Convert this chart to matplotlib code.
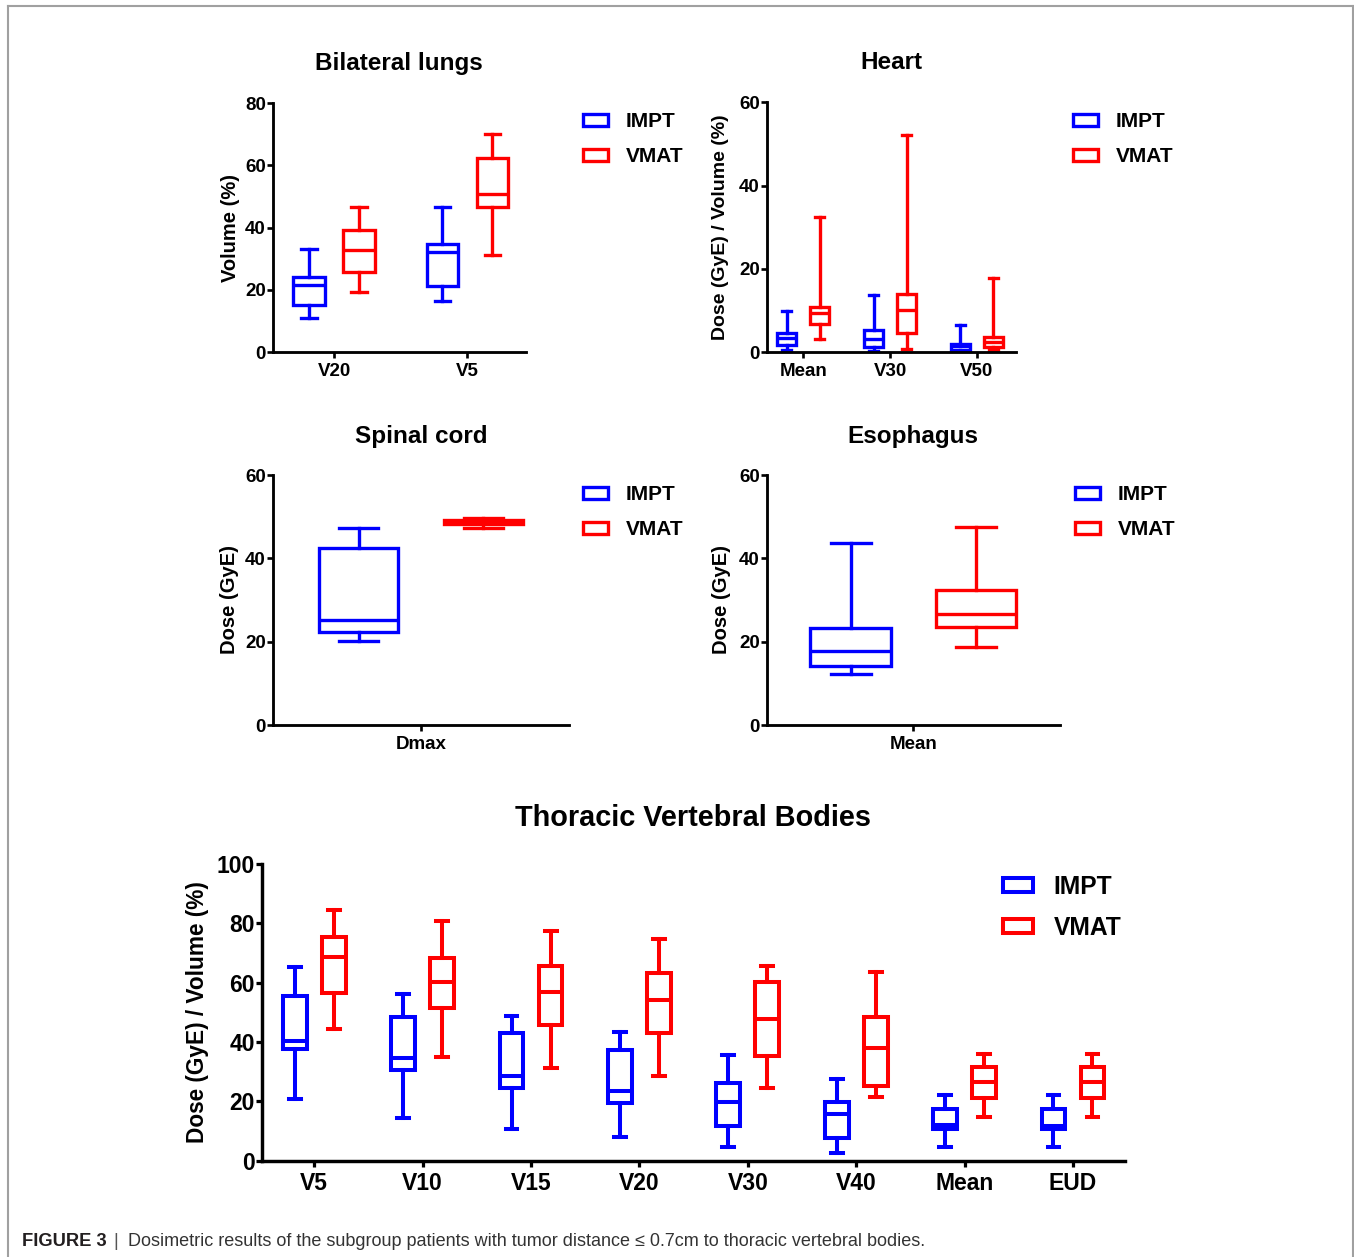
import matplotlib
matplotlib.use("Agg")
import matplotlib.pyplot as plt
from matplotlib.patches import Patch
from matplotlib.lines import Line2D

plt.rcParams['font.family'] = ['Liberation Sans', 'DejaVu Sans']
plt.rcParams['font.weight'] = 'bold'

W, H = 1354, 1257

# box stats per category: [whisker low, Q1, median, Q3, whisker high]
lung_cats = ['V20', 'V5']
lung_impt = [[10.9, 15.1, 21.5, 24.2, 33.1], [16.4, 21.2, 32.2, 34.7, 46.6]]
lung_vmat = [[19.4, 25.8, 32.7, 39.1, 46.6], [31.1, 46.6, 50.9, 62.4, 69.9]]

heart_cats = ['Mean', 'V30', 'V50']
heart_impt = [[0.5, 1.8, 3.5, 4.6, 9.9], [0.4, 1.2, 3.1, 5.4, 13.8], [0.0, 0.5, 1.5, 2.0, 6.6]]
heart_vmat = [[3.2, 6.7, 9.4, 10.9, 32.4], [0.7, 4.6, 10.2, 14.0, 52.2], [0.5, 1.3, 2.5, 3.7, 17.8]]

cord_cats = ['Dmax']
cord_impt = [[20.2, 22.4, 25.2, 42.6, 47.4]]
cord_vmat = [[47.3, 48.2, 48.6, 49.2, 49.6]]

eso_cats = ['Mean']
eso_impt = [[12.2, 14.2, 17.8, 23.4, 43.6]]
eso_vmat = [[18.8, 23.6, 26.6, 32.4, 47.6]]

tvb_cats = ['V5', 'V10', 'V15', 'V20', 'V30', 'V40', 'Mean', 'EUD']
tvb_impt = [[20.7, 37.5, 40.5, 55.6, 65.4], [14.3, 30.6, 34.5, 48.5, 56.2],
            [10.6, 24.4, 28.5, 42.9, 48.9], [8.1, 19.3, 23.6, 37.3, 43.5],
            [4.7, 11.8, 19.7, 26.1, 35.6], [2.5, 7.5, 15.6, 19.7, 27.4],
            [4.7, 10.6, 12.0, 17.4, 22.1], [4.7, 10.6, 11.8, 17.4, 22.1]]
tvb_vmat = [[44.3, 56.4, 68.8, 75.3, 84.5], [35.1, 51.4, 60.1, 68.4, 80.8],
            [31.1, 45.7, 57.0, 65.7, 77.5], [28.5, 42.9, 54.2, 63.4, 74.6],
            [24.6, 35.4, 47.8, 60.3, 65.6], [21.4, 25.3, 37.9, 48.5, 63.7],
            [14.8, 21.0, 26.6, 31.7, 36.0], [14.8, 21.0, 26.6, 31.7, 36.0]]

series_names = ['IMPT', 'VMAT']
series_colors = ['#0000ff', '#ff0000']


def px_axes(fig, x0, y0, x1, y1):
    return fig.add_axes([x0 / W, 1 - y1 / H, (x1 - x0) / W, (y1 - y0) / H])


def to_stats(rows):
    return [dict(whislo=r[0], q1=r[1], med=r[2], q3=r[3], whishi=r[4]) for r in rows]


def draw_panel(ax, title, cats, groups, ylabel, ymax, ystep, offset, width, xlim,
               lw, fs, lab_fs, title_fs, title_pad, label_x, leg_xy, leg_fs, leg_spacing):
    n = len(cats)
    for k, (rows, col) in enumerate(zip(groups, series_colors)):
        pos = [i + (offset if k else -offset) for i in range(n)]
        props = dict(color=col, linewidth=lw)
        ax.bxp(to_stats(rows), positions=pos, widths=width, capwidths=width / 2,
               showfliers=False, patch_artist=True,
               boxprops=dict(facecolor='white', edgecolor=col, linewidth=lw),
               medianprops=props, whiskerprops=props, capprops=props,
               manage_ticks=False)
    ax.set_xlim(*xlim)
    ax.set_ylim(0, ymax)
    ax.set_yticks(range(0, ymax + 1, ystep))
    ax.set_xticks(range(n))
    ax.set_xticklabels(cats)
    for s in ['top', 'right']:
        ax.spines[s].set_visible(False)
    for s in ['left', 'bottom']:
        ax.spines[s].set_linewidth(lw * 0.85)
    ax.tick_params(width=lw * 0.8, length=4, labelsize=fs, pad=1)
    ax.tick_params(axis='x', pad=4)
    ax.set_ylabel(ylabel, fontsize=lab_fs, fontweight='bold')
    ax.yaxis.set_label_coords(label_x, 0.5)
    ax.set_title(title, fontsize=title_fs, fontweight='bold', pad=title_pad)
    handles = [Patch(facecolor='white', edgecolor=c, linewidth=lw, label=l)
               for c, l in zip(series_colors, series_names)]
    ax.legend(handles=handles, loc='upper left',
              bbox_to_anchor=(leg_xy[0] / W, 1 - leg_xy[1] / H),
              bbox_transform=fig.transFigure, frameon=False, borderpad=0,
              borderaxespad=0, handlelength=1.2,
              handleheight=0.5, handletextpad=0.85, labelspacing=leg_spacing,
              prop=dict(weight='bold', size=leg_fs))


fig = plt.figure(figsize=(W / 100, H / 100), dpi=100)

ax1 = px_axes(fig, 272.7, 103, 526, 352.3)
draw_panel(ax1, 'Bilateral lungs', lung_cats, [lung_impt, lung_vmat], 'Volume (%)',
           80, 20, 0.1875, 0.233, (-0.46, 1.44), 2.4, 13.5, 14.5, 17.5, 24,
           -0.129, (583, 112), 15, 0.78)

ax2 = px_axes(fig, 766.7, 102.3, 1016, 352.3)
draw_panel(ax2, 'Heart', heart_cats, [heart_impt, heart_vmat], 'Dose (GyE) / Volume (%)',
           60, 20, 0.19, 0.22, (-0.42, 2.45), 2.4, 13.5, 14, 17.5, 24,
           -0.15, (1073, 112), 15, 0.78)

ax3 = px_axes(fig, 272.7, 475, 569.3, 725)
draw_panel(ax3, 'Spinal cord', cord_cats, [cord_impt, cord_vmat], 'Dose (GyE)',
           60, 20, 0.2, 0.25, (-0.4746, 0.4746), 2.4, 13.5, 14.5, 17.5, 23,
           -0.113, (583, 485), 15, 0.78)

ax4 = px_axes(fig, 766.7, 475, 1060, 725)
draw_panel(ax4, 'Esophagus', eso_cats, [eso_impt, eso_vmat], 'Dose (GyE)',
           60, 20, 0.2, 0.258, (-0.469, 0.469), 2.4, 13.5, 14.5, 17.5, 23,
           -0.123, (1075, 485), 15, 0.78)

ax5 = px_axes(fig, 261.7, 864, 1125, 1160.7)
draw_panel(ax5, 'Thoracic Vertebral Bodies', tvb_cats, [tvb_impt, tvb_vmat],
           'Dose (GyE) / Volume (%)', 100, 20, 0.18, 0.22, (-0.485, 7.48), 2.9, 16.5,
           16.3, 20.8, 27, -0.0607, (1003, 875), 17.7, 0.68)

# open frame around the figure
frame = dict(color='#a0a0a0', linewidth=1.5, transform=fig.transFigure)
fig.add_artist(Line2D([8 / W, 1353 / W], [1 - 6 / H, 1 - 6 / H], **frame))
fig.add_artist(Line2D([8 / W, 8 / W], [1 - 6 / H, 0], **frame))
fig.add_artist(Line2D([1353 / W, 1353 / W], [1 - 6 / H, 0], **frame))

# caption
cap_y = 1 - 1241 / H
fig.text(22 / W, cap_y, 'FIGURE 3', fontsize=13.2, fontweight='bold',
         color='#231f20', va='center', ha='left')
fig.text(113 / W, cap_y, '|', fontsize=13, fontweight='normal',
         color='#555555', va='center', ha='left')
fig.text(128 / W, cap_y,
         'Dosimetric results of the subgroup patients with tumor distance '
         '\u2264 0.7cm to thoracic vertebral bodies.',
         fontsize=13, fontweight='normal', color='#333333', va='center', ha='left')

fig.savefig('out.png', dpi=100)
